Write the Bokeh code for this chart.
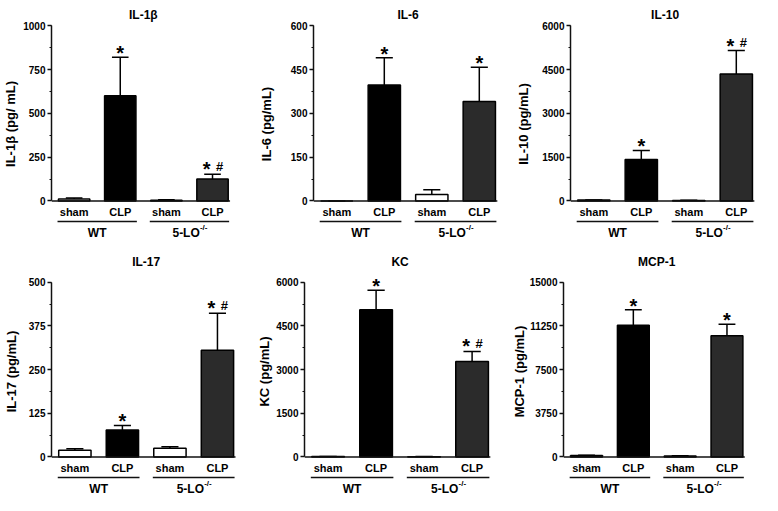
from bokeh.plotting import figure
from bokeh.layouts import column, row
from bokeh.models import Range1d, FixedTicker, ColumnDataSource
from bokeh.core.properties import value
from bokeh.embed import file_html
from bokeh.resources import INLINE

# ---------------- data ----------------
conditions = ["sham", "CLP", "sham", "CLP"]
group_names = ["WT", "5-LO"]
group_sup = ["", "-/-"]
bar_colors = ["white", "black", "white", "#2b2b2b"]

titles = ["IL-1β", "IL-6", "IL-10", "IL-17", "KC", "MCP-1"]
ylabels = ["IL-1β (pg/ mL)", "IL-6 (pg/mL)", "IL-10 (pg/mL)",
           "IL-17 (pg/mL)", "KC (pg/mL)", "MCP-1 (pg/mL)"]

il1b_ticks = [0, 250, 500, 750, 1000]
il6_ticks = [0, 150, 300, 450, 600]
il10_ticks = [0, 1500, 3000, 4500, 6000]
il17_ticks = [0, 125, 250, 375, 500]
kc_ticks = [0, 1500, 3000, 4500, 6000]
mcp1_ticks = [0, 3750, 7500, 11250, 15000]

il1b_mean = [11, 600, 4, 125]
il1b_sem = [5, 220, 2, 27]
il6_mean = [0, 397, 22, 340]
il6_sem = [0, 93, 16, 118]
il10_mean = [30, 1420, 15, 4350]
il10_sem = [5, 310, 5, 800]
il17_mean = [19, 77, 25, 305]
il17_sem = [4, 13, 4, 106]
kc_mean = [10, 5050, 8, 3280]
kc_sem = [3, 670, 3, 340]
mcp1_mean = [120, 11300, 80, 10400]
mcp1_sem = [20, 1330, 15, 990]

il1b_sig = ["", "*", "", "*#"]
il6_sig = ["", "*", "", "*"]
il10_sig = ["", "*", "", "*#"]
il17_sig = ["", "*", "", "*#"]
kc_sig = ["", "*", "", "*#"]
mcp1_sig = ["", "*", "", "*"]

panels = [
    (il1b_ticks, il1b_mean, il1b_sem, il1b_sig),
    (il6_ticks, il6_mean, il6_sem, il6_sig),
    (il10_ticks, il10_mean, il10_sem, il10_sig),
    (il17_ticks, il17_mean, il17_sem, il17_sig),
    (kc_ticks, kc_mean, kc_sem, kc_sig),
    (mcp1_ticks, mcp1_mean, mcp1_sem, mcp1_sig),
]

# ---------------- layout / style ----------------
FONT = value("Liberation Sans")
W = 254
row_geom = [dict(H=247, z=200.4, t=25.2, ppx=47.5, off=23.3),
            dict(H=248, z=209.4, t=34.7, ppx=48.0, off=23.6)]
lefts = [45, 59, 62, 49, 50, 50]
label_standoffs = [2, 14, 8, 7, 1, 0]
INK = "#111111"


def make_panel(i):
    ticks, mean, sem, sig = panels[i]
    g = row_geom[i // 3]
    H, z, t = g["H"], g["z"], g["t"]
    top = ticks[-1]
    ppu = (z - t) / top
    y0 = -(H - z) / ppu
    y1 = top + t / ppu
    left = lefts[i]
    frame_w = W - left - 1
    x0 = 1 - g["off"] / g["ppx"]
    x1 = x0 + frame_w / g["ppx"]

    def ydat(pix):
        return (z - pix) / ppu

    p = figure(width=W, height=H, x_range=Range1d(x0, x1), y_range=Range1d(y0, y1),
               output_backend="svg", toolbar_location=None, title=None,
               x_axis_location=None, min_border_left=left, min_border_right=1,
               min_border_top=0, min_border_bottom=0)
    p.grid.grid_line_color = None
    p.outline_line_color = None
    p.background_fill_color = "white"
    p.border_fill_color = "white"

    ax = p.yaxis[0]
    ax.bounds = (0, top)
    minor = [top * k / 8 for k in range(9)]
    ax.ticker = FixedTicker(ticks=ticks, minor_ticks=minor)
    ax.major_label_overrides = {v: str(v) for v in ticks}
    ax.axis_line_width = 1.5
    ax.axis_line_color = INK
    ax.major_tick_line_color = INK
    ax.major_tick_line_width = 1.5
    ax.major_tick_out = 4
    ax.major_tick_in = 0
    ax.minor_tick_line_color = INK
    ax.minor_tick_line_width = 1.2
    ax.minor_tick_out = 2
    ax.minor_tick_in = 0
    ax.major_label_text_font = "Liberation Sans"
    ax.major_label_text_font_style = "bold"
    ax.major_label_text_font_size = "10px"
    ax.major_label_text_color = "black"
    ax.major_label_standoff = 2
    ax.axis_label = ylabels[i]
    ax.axis_label_text_font = "Liberation Sans"
    ax.axis_label_text_font_style = "bold"
    ax.axis_label_text_font_size = "13px"
    ax.axis_label_text_color = "black"
    ax.axis_label_standoff = label_standoffs[i]

    xs = [1, 2, 3, 4]
    err = [m + s for m, s in zip(mean, sem)]
    src = ColumnDataSource(dict(x=xs, top=mean, err=err, color=bar_colors,
                                cl=[x - 0.18 for x in xs], cr=[x + 0.18 for x in xs]))
    p.segment(x0="x", y0="top", x1="x", y1="err", source=src,
              line_color="black", line_width=1.5)
    p.segment(x0="cl", y0="err", x1="cr", y1="err", source=src,
              line_color="black", line_width=1.5)
    p.vbar(x="x", top="top", bottom=0, width=0.68, source=src,
           fill_color="color", line_color="black", line_width=1.5)
    # x baseline
    p.segment(x0=[x0], y0=[0], x1=[4.38], y1=[0], line_color=INK, line_width=1.5)

    # significance marks
    for x, e, s in zip(xs, err, sig):
        if s == "*":
            p.text(x=[x], y=[e], text=["*"], text_font=FONT, text_font_style="bold",
                   text_font_size="20px", text_align="center", text_baseline="alphabetic",
                   y_offset=-4, text_color="black")
        elif s == "*#":
            p.text(x=[x], y=[e], text=["*"], text_font=FONT, text_font_style="bold",
                   text_font_size="20px", text_align="center", text_baseline="alphabetic",
                   x_offset=-6, y_offset=-5, text_color="black")
            p.text(x=[x], y=[e], text=["#"], text_font=FONT, text_font_style="bold",
                   text_font_size="13px", text_align="center", text_baseline="alphabetic",
                   x_offset=7, y_offset=-8, text_color="black")

    # category labels
    p.text(x=xs, y=[ydat(z + 11)] * 4, text=conditions, text_font=FONT,
           text_font_style="bold", text_font_size="11px", text_align="center",
           text_baseline="middle", text_color="black")
    # group lines
    yl = ydat(z + 20.5)
    p.segment(x0=[1 - 0.36, 3 - 0.36], y0=[yl, yl], x1=[2 + 0.36, 4 + 0.36], y1=[yl, yl],
              line_color=INK, line_width=1.5)
    # group labels
    yg = ydat(z + 32)
    p.text(x=[1.5], y=[yg], text=[group_names[0]], text_font=FONT, text_font_style="bold",
           text_font_size="12px", text_align="center", text_baseline="middle",
           text_color="black")
    p.text(x=[3.5], y=[yg], text=[group_names[1]], text_font=FONT, text_font_style="bold",
           text_font_size="12px", text_align="left", text_baseline="middle",
           x_offset=-17, text_color="black")
    p.text(x=[3.5], y=[yg], text=[group_sup[1]], text_font=FONT, text_font_style="bold",
           text_font_size="8px", text_align="left", text_baseline="middle",
           x_offset=10.5, y_offset=-5, text_color="black")
    # title
    p.text(x=[2.5], y=[ydat(14.5)], text=[titles[i]], text_font=FONT,
           text_font_style="bold", text_font_size="12px", text_align="center",
           text_baseline="middle", text_color="black")
    return p


figs = [make_panel(i) for i in range(6)]
layout = column(row(*figs[:3]), row(*figs[3:]))
open("out.html", "w").write(file_html(layout, INLINE))
